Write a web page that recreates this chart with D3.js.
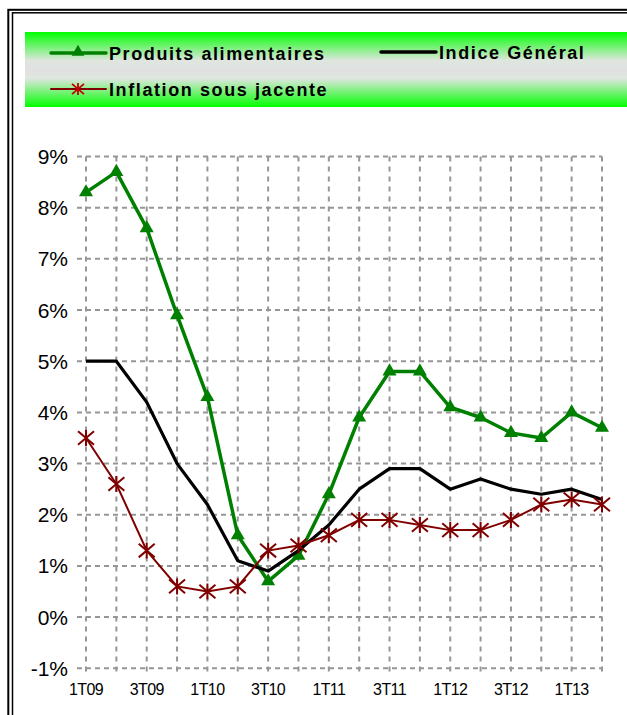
<!DOCTYPE html>
<html><head><meta charset="utf-8">
<script src="https://cdn.jsdelivr.net/npm/d3@7/dist/d3.min.js"></script>
<style>html,body{margin:0;padding:0;background:#fff;overflow:hidden}svg{display:block}</style>
</head><body>
<svg id="c" width="627" height="715"></svg>
<script>
const categories = ["1T09","2T09","3T09","4T09","1T10","2T10","3T10","4T10","1T11","2T11","3T11","4T11","1T12","2T12","3T12","4T12","1T13","2T13"];
const tickLabels = ["1T09","3T09","1T10","3T10","1T11","3T11","1T12","3T12","1T13"];
const produitsAlimentaires = [8.3,8.7,7.6,5.9,4.3,1.6,0.7,1.2,2.4,3.9,4.8,4.8,4.1,3.9,3.6,3.5,4.0,3.7];
const indiceGeneral = [5.0,5.0,4.2,3.0,2.2,1.1,0.9,1.3,1.8,2.5,2.9,2.9,2.5,2.7,2.5,2.4,2.5,2.3];
const inflationSousJacente = [3.5,2.6,1.3,0.6,0.5,0.6,1.3,1.4,1.6,1.9,1.9,1.8,1.7,1.7,1.9,2.2,2.3,2.2];
const yTicks = [-1,0,1,2,3,4,5,6,7,8,9];
const seriesNames = ["Produits alimentaires","Indice Général","Inflation sous jacente"];

const svg = d3.select("#c");
const font = "'Liberation Sans', Arial, sans-serif";

// frame
svg.append("rect").attr("x",8.3).attr("y",9.8).attr("width",700).attr("height",800)
  .attr("fill","none").attr("stroke","#000").attr("stroke-width",2);
svg.append("rect").attr("x",12.5).attr("y",12.8).attr("width",700).attr("height",800)
  .attr("fill","none").attr("stroke","#000").attr("stroke-width",1.5);

// legend background gradient
const defs = svg.append("defs");
const g = defs.append("linearGradient").attr("id","lg").attr("x1",0).attr("y1",0).attr("x2",0).attr("y2",1);
g.append("stop").attr("offset","0%").attr("stop-color","#00ff00");
g.append("stop").attr("offset","38%").attr("stop-color","#dfe6df");
g.append("stop").attr("offset","50%").attr("stop-color","#e0e0e0");
g.append("stop").attr("offset","62%").attr("stop-color","#dfe6df");
g.append("stop").attr("offset","100%").attr("stop-color","#00ff00");
svg.append("rect").attr("x",25).attr("y",32).attr("width",620).attr("height",75).attr("fill","url(#lg)");

const x = d3.scalePoint().domain(categories).range([86,602]);
const y = d3.scaleLinear().domain([-1,9]).range([668.3,156.5]);

// gridlines
const grid = svg.append("g");
grid.selectAll("line.h").data(yTicks).join("line")
  .attr("x1",77).attr("x2",602).attr("y1",d=>y(d)).attr("y2",d=>y(d))
  .attr("stroke","#969696").attr("stroke-width",2).attr("stroke-dasharray","5,4");
grid.selectAll("line.v").data(categories).join("line")
  .attr("x1",d=>x(d)).attr("x2",d=>x(d)).attr("y1",y(9)).attr("y2",675)
  .attr("stroke","#969696").attr("stroke-width",2).attr("stroke-dasharray","5,5");

// y labels
svg.append("g").selectAll("text").data(yTicks).join("text")
  .attr("x",68).attr("y",d=>y(d)+7.5).attr("text-anchor","end")
  .attr("font-family",font).attr("font-size",21).attr("fill","#000")
  .text(d=>d+"%");

// x labels
svg.append("g").selectAll("text").data(tickLabels).join("text")
  .attr("x",d=>x(d)).attr("y",695).attr("text-anchor","middle")
  .attr("font-family",font).attr("font-size",16).attr("letter-spacing",-0.6).attr("fill","#000")
  .text(d=>d);

const line = d3.line().x((d,i)=>x(categories[i])).y(d=>y(d));
const tri = d3.symbol().type(d3.symbolTriangle).size(85);
const starPath = (s)=>`M${-s},${-s*0.85}L${s},${s*0.85}M${-s},${s*0.85}L${s},${-s*0.85}M0,${-s}L0,${s}`;

// green
svg.append("path").datum(produitsAlimentaires).attr("d",line).attr("fill","none")
  .attr("stroke","#008000").attr("stroke-width",3.5).attr("stroke-linejoin","round");
svg.append("g").selectAll("path").data(produitsAlimentaires).join("path")
  .attr("d",tri).attr("transform",(d,i)=>`translate(${x(categories[i])},${y(d)})`).attr("fill","#008000");
// black
svg.append("path").datum(indiceGeneral).attr("d",line).attr("fill","none")
  .attr("stroke","#000").attr("stroke-width",3.2).attr("stroke-linejoin","round");
// red
svg.append("path").datum(inflationSousJacente).attr("d",line).attr("fill","none")
  .attr("stroke","#800000").attr("stroke-width",2);
svg.append("g").selectAll("path").data(inflationSousJacente).join("path")
  .attr("d",starPath(8)).attr("transform",(d,i)=>`translate(${x(categories[i])},${y(d)})`)
  .attr("fill","none").attr("stroke","#800000").attr("stroke-width",2);

// legend
const leg = svg.append("g");
const legItems = [
  {name:seriesNames[0], x1:51, y:53, color:"#008000", w:3.5, m:"tri"},
  {name:seriesNames[1], x1:381, y:52, color:"#000", w:3.5, m:null},
  {name:seriesNames[2], x1:51, y:89, color:"#800000", w:2, m:"star"}
];
legItems.forEach(it=>{
  leg.append("line").attr("x1",it.x1).attr("x2",it.x1+55).attr("y1",it.y).attr("y2",it.y)
    .attr("stroke",it.color).attr("stroke-width",it.w).attr("stroke-linecap","round");
  if(it.m==="tri") leg.append("path").attr("d",d3.symbol().type(d3.symbolTriangle).size(70)())
    .attr("transform",`translate(${it.x1+27},${it.y-1})`).attr("fill",it.color);
  if(it.m==="star") leg.append("path").attr("d",starPath(6))
    .attr("transform",`translate(${it.x1+27},${it.y})`).attr("fill","none").attr("stroke","#c00000").attr("stroke-width",1.8);
  leg.append("text").attr("x",it.x1+58).attr("y",it.y+6.5)
    .attr("font-family",font).attr("font-size",18).attr("font-weight","bold").attr("letter-spacing",1.6)
    .attr("fill","#000").text(it.name);
});
</script>
</body></html>
